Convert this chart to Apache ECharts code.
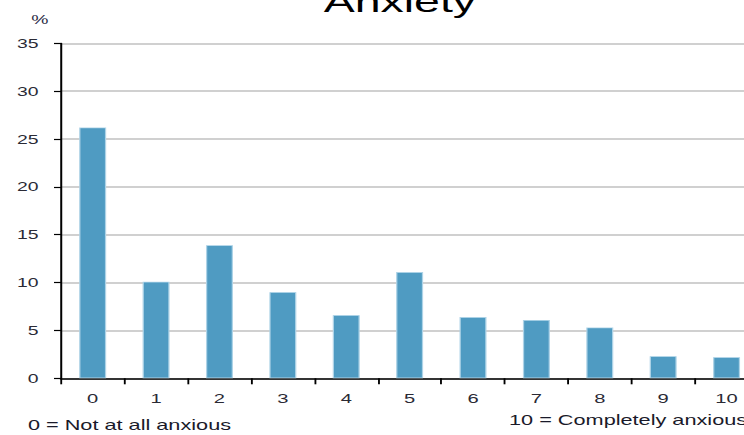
<!DOCTYPE html>
<html><head><meta charset="utf-8">
<script src="https://cdn.jsdelivr.net/npm/echarts@6/dist/echarts.min.js"></script>
<style>
html,body{margin:0;padding:0;width:744px;height:435px;overflow:hidden;background:#fff}
#c{width:490px;height:435px;transform:scaleX(1.55);transform-origin:0 0}
</style></head><body><div id="c"></div>
<script>
// Data
const categories = ['0','1','2','3','4','5','6','7','8','9','10'];
const values = [26.2, 10.1, 13.9, 9.0, 6.6, 11.1, 6.4, 6.1, 5.3, 2.3, 2.2];
const titleText = 'Anxiety';
const unitText = '%';
const lowNote = '0 = Not at all anxious';
const highNote = '10 = Completely anxious';
const yMin = 0, yMax = 35, yStep = 5;

const FONT = "'Liberation Sans', Arial, sans-serif";
const chart = echarts.init(document.getElementById('c'), null, {renderer: 'svg'});
chart.setOption({
  animation: false,
  backgroundColor: '#fff',
  grid: {left: 39.35, right: 0.8, top: 43.3, bottom: 56.7},
  xAxis: {
    type: 'category',
    data: categories,
    boundaryGap: true,
    axisLine: {show: true, lineStyle: {color: '#000', width: 1.6}},
    axisTick: {show: true, alignWithLabel: false, length: 6, lineStyle: {color: '#000', width: 1.2}},
    axisLabel: {color: '#2a2a35', fontFamily: FONT, fontSize: 13, margin: 14},
    splitLine: {show: false}
  },
  yAxis: {
    type: 'value',
    min: yMin, max: yMax, interval: yStep,
    axisLine: {show: true, lineStyle: {color: '#000', width: 1.3}},
    axisTick: {show: true, length: 4.5, lineStyle: {color: '#000', width: 1.2}},
    axisLabel: {color: '#2a2a35', fontFamily: FONT, fontSize: 12.5, margin: 14.5},
    splitLine: {show: true, lineStyle: {color: '#d0d0d0', width: 2}}
  },
  series: [{
    type: 'bar',
    data: values,
    barWidth: 17.4,
    itemStyle: {color: '#4f9bc2', borderColor: '#aed3e7', borderWidth: 0.8}
  }],
  graphic: [
    {type: 'text', x: 258, y: 1.5, style: {text: titleText, font: "30px " + FONT, fill: '#000', textAlign: 'center', textVerticalAlign: 'middle'}},
    {type: 'text', x: 25.8, y: 19.7, style: {text: unitText, font: "12.5px " + FONT, fill: '#2a2a45', textAlign: 'center', textVerticalAlign: 'middle'}},
    {type: 'text', x: 18, y: 425, style: {text: lowNote, font: "14px " + FONT, fill: '#1a1a2a', textAlign: 'left', textVerticalAlign: 'middle'}},
    {type: 'text', x: 328.4, y: 420, style: {text: highNote, font: "14px " + FONT, fill: '#1a1a2a', textAlign: 'left', textVerticalAlign: 'middle'}}
  ]
});
</script></body></html>
